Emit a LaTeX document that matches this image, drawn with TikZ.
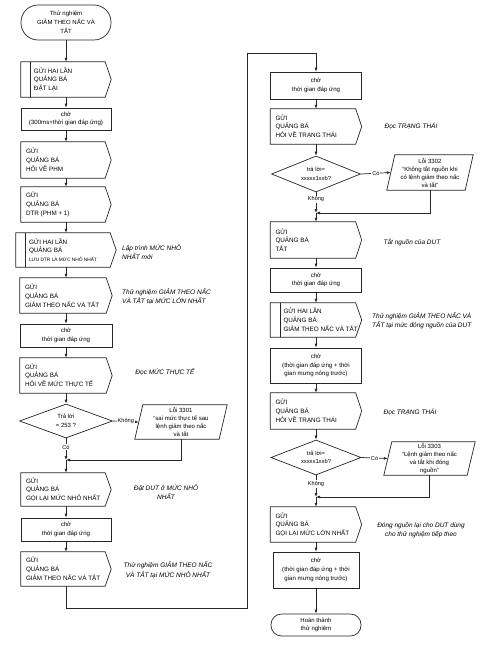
\documentclass[tikz,border=0pt]{standalone}
\usepackage{fontspec}
\setmainfont{Liberation Sans}
\usetikzlibrary{arrows.meta,shapes.geometric}
\tikzset{
  ln/.style={line width=0.7pt, draw=black!85},
  shp/.style={rectangle, draw=none, inner sep=0pt},
  btxt/.style={anchor=west, align=left, inner sep=0pt, font=\fontsize{6.3}{8.8}\selectfont},
  etxt/.style={align=center, inner sep=0pt, font=\fontsize{6}{8}\selectfont},
  wbox/.style={rectangle, ln, draw, align=center, inner sep=1pt, font=\fontsize{6.1}{8.7}\selectfont},
  term/.style={rectangle, ln, draw, align=center, inner sep=1pt, font=\fontsize{6}{8.8}\selectfont},
  dec/.style={diamond, ln, draw, aspect=2.7, align=center, inner sep=0pt, font=\fontsize{6}{9}\selectfont},
  note/.style={align=left, inner sep=0pt, font=\fontsize{6.5}{9.3}\selectfont\itshape},
  notec/.style={align=center, inner sep=0pt, font=\fontsize{6.5}{9.3}\selectfont\itshape},
  arr/.style={ln, -{Latex[length=4pt,width=3pt]}},
  lbl/.style={fill=white, inner sep=1pt, font=\fontsize{5.6}{7}\selectfont},
}
\newcommand\sendoutline[1]{\draw[ln] (#1.north west) -- ([xshift=-6pt]#1.north east) -- (#1.east) -- ([xshift=-6pt]#1.south east) -- (#1.south west) -- cycle;}
\newcommand\sendbox[5]{%
  \node[shp, minimum width=#3, minimum height=#4] (#1) at (#2) {};
  \sendoutline{#1}
  \node[btxt] (#1t) at ([xshift=5pt]#1.west) {#5};}
\newcommand\dblbox[5]{%
  \node[shp, minimum width=#3, minimum height=#4] (#1) at (#2) {};
  \sendoutline{#1}
  \draw[ln] ([xshift=10pt]#1.north west) -- ([xshift=10pt]#1.south west);
  \node[btxt] (#1t) at ([xshift=13pt]#1.west) {#5};}
\newcommand\errbox[5]{%
  \node[shp, minimum width=#3, minimum height=#4] (#1) at (#2) {};
  \draw[ln] ([xshift=8pt]#1.north west) -- (#1.north east) -- ([xshift=-8pt]#1.south east) -- (#1.south west) -- cycle;
  \node[etxt] (#1t) at (#1.center) {#5};}
\begin{document}
\begin{tikzpicture}[x=1pt,y=-1pt]
\fill[white] (0,0) rectangle (488,648);
\useasboundingbox (0,0) rectangle (488,648);

% ---------------- left column ----------------
\node[term, rounded corners=17pt, minimum width=90pt, minimum height=35pt] (start) at (66,22.5) {Thử nghiệm\\GIẢM THEO NẤC VÀ\\TẮT};
\dblbox{b1}{66,79.5}{90pt}{35pt}{GỬI HAI LẦN\\QUẢNG BÁ\\ĐẶT LẠI}
\node[wbox, minimum width=90pt, minimum height=22pt] (w1) at (66,119) {chờ\\(300ms+thời gian đáp ứng)};
\sendbox{b2}{66,160}{90pt}{36pt}{GỬI\\QUẢNG BÁ\\HỎI VỀ PHM}
\sendbox{b3}{66,204.5}{90pt}{35pt}{GỬI\\QUẢNG BÁ\\DTR (PHM + 1)}
\dblbox{b4}{66,250}{100pt}{34pt}{GỬI HAI LẦN\\QUẢNG BÁ\\{\fontsize{4.8}{8.8}\selectfont LƯU DTR LÀ MỨC NHỎ NHẤT}}
\sendbox{b5}{66,295.5}{92pt}{35pt}{GỬI\\QUẢNG BÁ\\GIẢM THEO NẤC VÀ TẮT}
\node[wbox, minimum width=92pt, minimum height=23pt] (w2) at (66,335.5) {chờ\\thời gian đáp ứng};
\sendbox{b6}{66,375.5}{92pt}{35pt}{GỬI\\QUẢNG BÁ\\HỎI VỀ MỨC THỰC TẾ}
\node[dec, minimum width=93pt, minimum height=34pt] (d1) at (66,421) {Trả lời\\= 253 ?};
\errbox{e1}{181,422}{92pt}{34pt}{Lỗi 3301\\“sai mức thực tế sau\\lệnh giảm theo nấc\\và tắt}
\coordinate (m1) at (66,460);
\sendbox{b7}{66,489.5}{90pt}{33pt}{GỬI\\QUẢNG BÁ\\GỌI LẠI MỨC NHỎ NHẤT}
\node[wbox, minimum width=90pt, minimum height=23pt] (w3) at (66,529.5) {chờ\\thời gian đáp ứng};
\sendbox{b8}{66,569}{90pt}{34pt}{GỬI\\QUẢNG BÁ\\GIẢM THEO NẤC VÀ TẮT}

% notes left
\node[note, anchor=north west] (n1) at (122,244) {Lập trình MỨC NHỎ\\NHẤT mới};
\node[note, anchor=west] (n2) at (122,296.5) {Thử nghiệm GIẢM THEO NẤC\\VÀ TẮT tại MỨC LỚN NHẤT};
\node[notec] (n3) at (165,372) {Đọc MỨC THỰC TẾ};
\node[notec] (n4) at (166,492) {Đặt DUT ở MỨC NHỎ\\NHẤT};
\node[notec] (n5) at (168,570) {Thử nghiệm GIẢM THEO NẤC\\VÀ TẮT tại MỨC NHỎ NHẤT};

% loop coordinates
\coordinate (c1) at (66,608);
\coordinate (c2) at (247,608);
\coordinate (c3) at (247,53);
\coordinate (c4) at (316,53);

% ---------------- right column ----------------
\node[wbox, minimum width=91pt, minimum height=27pt] (w4) at (316,85.5) {chờ\\thời gian đáp ứng};
\sendbox{b9}{316,126.5}{91pt}{35pt}{GỬI\\QUẢNG BÁ\\HỎI VỀ TRẠNG THÁI}
\node[dec, minimum width=89pt, minimum height=36pt, font=\fontsize{5.8}{8.5}\selectfont] (d2) at (316,174) {trả lời=\\xxxxx1xxb?};
\errbox{e2}{430,172.5}{86pt}{35pt}{Lỗi 3302\\“Không tắt nguồn khi\\có lệnh giảm theo nấc\\và tắt”}
\coordinate (m2) at (316,213);
\sendbox{b10}{316,240}{91pt}{36pt}{GỬI\\QUẢNG BÁ\\TẮT}
\node[wbox, minimum width=91pt, minimum height=24pt] (w5) at (316,280) {chờ\\thời gian đáp ứng};
\dblbox{b11}{316,320}{91pt}{34pt}{GỬI HAI LẦN\\QUẢNG BÁ\\GIẢM THEO NẤC VÀ TẮT}
\node[wbox, minimum width=91pt, minimum height=35pt] (w6) at (316,365.5) {chờ\\(thời gian đáp ứng + thời\\gian mưng nóng trước)};
\sendbox{b12}{316,411}{91pt}{36pt}{GỬI\\QUẢNG BÁ\\HỎI VỀ TRẠNG THÁI}
\node[dec, minimum width=90pt, minimum height=35pt, font=\fontsize{5.8}{8.5}\selectfont] (d3) at (316,457.5) {trả lời=\\xxxxx1xxb?};
\errbox{e3}{429.5,458.5}{91pt}{33pt}{Lỗi 3303\\“Lệnh giảm theo nấc\\và tắt khi đóng\\nguồn”}
\coordinate (m3) at (316,497);
\sendbox{b13}{316,524.5}{91pt}{35pt}{GỬI\\QUẢNG BÁ\\GỌI LẠI MỨC LỚN NHẤT}
\node[wbox, minimum width=86pt, minimum height=36pt] (w7) at (316,570) {chờ\\(thời gian đáp ứng + thời\\gian mưng nóng trước)};
\node[term, rounded corners=10.5pt, minimum width=90pt, minimum height=22pt] (end) at (316,625) {Hoàn thành\\thử nghiệm};

% notes right
\node[notec] (n6) at (411,126.5) {Đọc TRẠNG THÁI};
\node[notec] (n7) at (412,242) {Tắt nguồn của DUT};
\node[note, anchor=west] (n8) at (372,321) {Thử nghiệm GIẢM THEO NẤC VÀ\\TẮT tại mức đóng nguồn của DUT};
\node[notec] (n9) at (410,412) {Đọc TRẠNG THÁI};
\node[notec] (n10) at (421,530) {Đóng nguồn lại cho DUT dùng\\cho thử nghiệm tiếp theo};

% ---------------- connectors ----------------
\draw[arr] (start.south) -- (b1.north);
\draw[arr] (b1.south) -- (w1.north);
\draw[arr] (w1.south) -- (b2.north);
\draw[arr] (b2.south) -- (b3.north);
\draw[arr] (b3.south) -- (b4.north);
\draw[arr] (b4.south) -- (b5.north);
\draw[arr] (b5.south) -- (w2.north);
\draw[arr] (w2.south) -- (b6.north);
\draw[arr] (b6.south) -- (d1.north);
\draw[arr] (d1.east) -- node[lbl] {Không} ([xshift=4pt]e1.west);
\draw[arr] (d1.south) -- node[lbl, pos=0.4] {Có} (m1);
\draw[arr] (e1.south) |- (m1);
\draw[arr] (m1) -- (b7.north);
\draw[arr] (b7.south) -- (w3.north);
\draw[arr] (w3.south) -- (b8.north);
\draw[arr] (b8.south) -- (c1) -- (c2) -- (c3) -- (c4) -- (w4.north);

\draw[arr] (w4.south) -- (b9.north);
\draw[arr] (b9.south) -- (d2.north);
\draw[arr] (d2.east) -- node[lbl] {Có} ([xshift=4pt]e2.west);
\draw[arr] (d2.south) -- node[lbl, pos=0.33] {Không} (m2);
\draw[arr] (e2.south) |- (m2);
\draw[arr] (m2) -- (b10.north);
\draw[arr] (b10.south) -- (w5.north);
\draw[arr] (w5.south) -- (b11.north);
\draw[arr] (b11.south) -- (w6.north);
\draw[arr] (w6.south) -- (b12.north);
\draw[arr] (b12.south) -- (d3.north);
\draw[arr] (d3.east) -- node[lbl] {Có} ([xshift=4pt]e3.west);
\draw[arr] (d3.south) -- node[lbl, pos=0.4] {Không} (m3);
\draw[arr] (e3.south) |- (m3);
\draw[arr] (m3) -- (b13.north);
\draw[arr] (b13.south) -- (w7.north);
\draw[arr] (w7.south) -- (end.north);
\end{tikzpicture}
\end{document}
